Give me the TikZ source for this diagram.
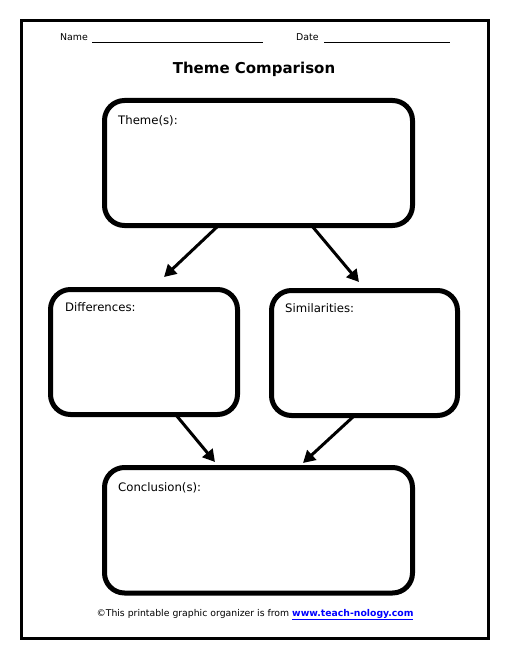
\documentclass[tikz,border=0pt]{standalone}
\usepackage{fontspec}
\setmainfont{DejaVu Sans}
\usetikzlibrary{arrows.meta}
\begin{document}
\begin{tikzpicture}[x=1pt,y=-1pt,
  box/.style={draw, line width=5pt, rounded corners=20pt, inner sep=0pt},
  lbl/.style={anchor=base west, font=\fontsize{11.7}{13}\selectfont, inner sep=0pt},
  small/.style={anchor=base west, font=\fontsize{9.4}{11}\selectfont, inner sep=0pt},
  arr/.style={line width=3pt, -{Triangle[length=12pt,width=13pt]}}]
\useasboundingbox (0,0) rectangle (510,660);
\draw[line width=3pt] (21,20.5) rectangle (488.5,638);

\node[small] (name) at (60,41) {Name};
\node[small] (date) at (296,41) {Date};
\draw[line width=0.6pt] (92,42) coordinate (n1) -- (263,42) coordinate (n2);
\draw[line width=0.6pt] (324,42) coordinate (d1) -- (450,42) coordinate (d2);

\node[font=\fontsize{15}{17}\selectfont\bfseries, anchor=base, inner sep=0pt] (title) at (254,74) {Theme Comparison};

\node[box, minimum width=308pt, minimum height=125pt] (theme) at (258.5,163) {};
\node[box, minimum width=187pt, minimum height=125pt] (diff) at (144,352) {};
\node[box, minimum width=186pt, minimum height=125pt] (sim) at (364.5,353) {};
\node[box, minimum width=308pt, minimum height=125.5pt] (concl) at (258.5,530.25) {};

\node[lbl] (lt) at (118,125) {Theme(s):};
\node[lbl] (ld) at (65,311) {Differences:};
\node[lbl] (ls) at (285,312) {Similarities:};
\node[lbl] (lc) at (118,491) {Conclusion(s):};

\coordinate (a1s) at (218,226);
\coordinate (a1e) at (164,277);
\coordinate (a2s) at (312,226);
\coordinate (a2e) at (359,282);
\coordinate (a3s) at (176,415);
\coordinate (a3e) at (215,462);
\coordinate (a4s) at (354,416);
\coordinate (a4e) at (303,463);
\draw[arr] (a1s) -- (a1e);
\draw[arr] (a2s) -- (a2e);
\draw[arr] (a3s) -- (a3e);
\draw[arr] (a4s) -- (a4e);

\node[font=\fontsize{9.3}{11}\selectfont, anchor=base, inner sep=0pt] (foot) at (255,616)
  {\textcopyright This printable graphic organizer is from \textcolor{blue}{\bfseries\underline{www.teach-nology.com}}};
\end{tikzpicture}
\end{document}
